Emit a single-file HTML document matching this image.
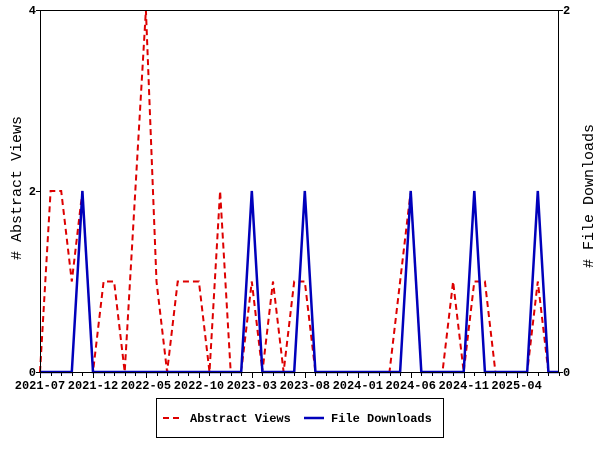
<!DOCTYPE html>
<html><head><meta charset="utf-8"><style>
html,body{margin:0;padding:0;background:#fff;width:600px;height:450px;overflow:hidden}
text{font-family:"Liberation Mono",monospace;font-weight:bold;font-size:12px;fill:#000}
text.t{font-weight:normal;font-size:15px}
</style></head><body>
<svg id="s" width="600" height="450" xmlns="http://www.w3.org/2000/svg">
<rect x="0" y="0" width="600" height="450" fill="#fff"/>
<g id="ticks" stroke="#000" stroke-width="1"></g>
<polyline id="red" fill="none" stroke="#dd0000" stroke-width="2" stroke-dasharray="6,4"/>
<polyline id="blue" fill="none" stroke="#0000bb" stroke-width="2.5"/>
<rect x="40.5" y="10.5" width="518" height="362" fill="none" stroke="#000" stroke-width="1"/>
<text x="36" y="14" text-anchor="end">4</text>
<text x="36" y="195" text-anchor="end">2</text>
<text x="36" y="376" text-anchor="end">0</text>
<text x="563" y="14">2</text>
<text x="563" y="376">0</text>
<g id="xl"></g>
<text class="t" transform="translate(21,188) rotate(-90)" text-anchor="middle"># Abstract Views</text>
<text class="t" transform="translate(593,196) rotate(-90)" text-anchor="middle"># File Downloads</text>
<rect x="156.5" y="398.5" width="287" height="39" fill="none" stroke="#000"/>
<line x1="163" y1="418" x2="183" y2="418" stroke="#dd0000" stroke-width="2" stroke-dasharray="6,4"/>
<text x="190" y="422">Abstract Views</text>
<line x1="304" y1="418" x2="324" y2="418" stroke="#0000bb" stroke-width="2.5"/>
<text x="331" y="422">File Downloads</text>
</svg>
<script>
var r=[0,2,2,1,2,0,1,1,0,2,4,1,0,1,1,1,0,2,0,0,1,0,1,0,1,1,0,0,0,0,0,0,0,0,1,2,0,0,0,1,0,1,1,0,0,0,0,1,0,0];
var b=[];for(var i=0;i<50;i++)b.push(0);[4,20,25,35,41,47].forEach(function(i){b[i]=2});
var dx=519/49;function X(i){return 40+dx*i}
document.getElementById('red').setAttribute('points',r.map(function(v,i){return X(i).toFixed(1)+','+(372-90.5*v).toFixed(1)}).join(' '));
document.getElementById('blue').setAttribute('points',b.map(function(v,i){return X(i).toFixed(1)+','+(372-181*v/2).toFixed(1)}).join(' '));
var t='';for(var i=0;i<50;i++){var x=Math.round(X(i))+0.5;t+='<line x1="'+x+'" y1="372" x2="'+x+'" y2="'+(i%5==0?378:376)+'"/>';}
t+='<line x1="36" y1="10.5" x2="40" y2="10.5"/><line x1="36" y1="191.5" x2="40" y2="191.5"/><line x1="36" y1="372.5" x2="40" y2="372.5"/>';
t+='<line x1="559" y1="10.5" x2="563" y2="10.5"/><line x1="559" y1="372.5" x2="563" y2="372.5"/>';
document.getElementById('ticks').innerHTML=t;
var L=['2021-07','2021-12','2022-05','2022-10','2023-03','2023-08','2024-01','2024-06','2024-11','2025-04'],h='';
L.forEach(function(l,k){h+='<text x="'+X(k*5).toFixed(1)+'" y="389" text-anchor="middle">'+l+'</text>'});
document.getElementById('xl').innerHTML=h;
</script>
</body></html>
